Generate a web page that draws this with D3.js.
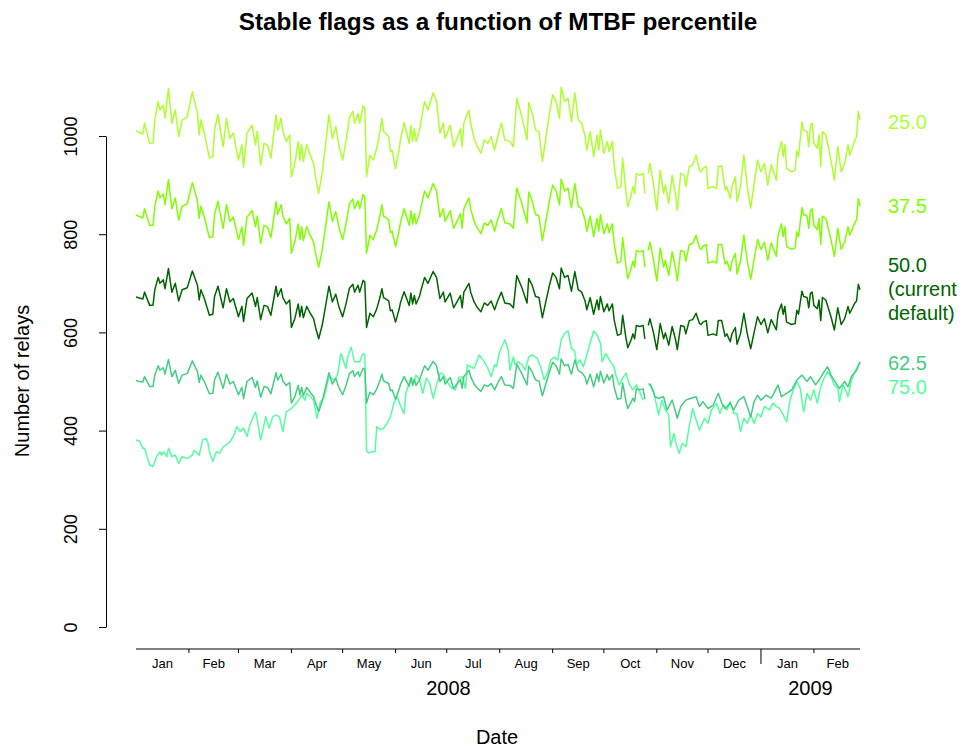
<!DOCTYPE html>
<html lang="en">
<head>
  <meta charset="UTF-8">
  <title>Stable flags as a function of MTBF percentile</title>
  <script src="https://d3js.org/d3.v7.min.js"></script>
  <style>
    body { margin: 0; background: #fff; }
    svg { font-family: "Liberation Sans", Arial, Helvetica, sans-serif; }
    .series { fill: none; stroke-width: 1.5px; stroke-linejoin: round; }
    .axis path, .axis line { stroke: #000; }
  </style>
</head>
<body>
  <div id="chart"></div>
  <script>
    const days = [
      0, 2, 4, 5, 8, 10, 11, 13, 14, 16,
      17, 19, 21, 23, 25, 27, 30, 33, 36, 37,
      38, 40, 43, 45, 46, 48, 51, 53, 55, 57,
      60, 62, 63, 65, 68, 70, 71, 73, 75, 77,
      79, 82, 83, 85, 86, 88, 90, 91, 93, 95,
      96, 97, 98, 100, 102, 104, 105, 107, 109, 111,
      113, 115, 117, 119, 121, 123, 125, 127, 128, 130,
      131, 133, 134, 135, 137, 139, 141, 143, 144, 145,
      148, 149, 150, 152, 154, 155, 157, 160, 161, 162,
      163, 164, 166, 167, 169, 171, 174, 176, 178, 180,
      181, 184, 186, 188, 190, 191, 192, 195, 196, 198,
      200, 202, 204, 206, 208, 210, 212, 214, 216, 219,
      221, 223, 226, 229, 230, 232, 234, 236, 238, 240,
      242, 244, 246, 248, 249, 251, 253, 255, 257, 259,
      261, 263, 264, 266, 268, 270, 271, 272, 274, 276,
      277, 279, 280, 282, 284, 285, 287, 288, 290, 291,
      292, 293, 295, 297, 298, 299, 300, 301, 303, 305,
      307, 309, 310, 312, 314, 316, 317, 319, 321, 322,
      324, 326, 328, 330, 331, 332, 334, 335, 338, 340,
      341, 343, 345, 346, 348, 349, 351, 352, 354, 356,
      358, 360, 362, 364, 366, 368, 370, 372, 375, 376,
      378, 379, 380, 381, 384, 386, 387, 388, 390, 391,
      393, 394, 395, 396, 397, 399, 400, 401, 402, 404,
      407, 409, 411, 413, 415, 417, 418, 421, 422, 423,
      424
    ];

    // 25.0 percentile
    const v250 = [
      1011, 1007, 1004, 1026, 985, 986, 1033, 1070, 1053, 1063,
      1036, 1097, 1026, 1053, 999, 1033, 1039, 1090, 1046, 1002,
      1033, 1006, 955, 958, 1012, 1044, 978, 1036, 995, 1006,
      951, 982, 936, 1006, 1022, 982, 1009, 941, 985, 982,
      955, 1043, 1012, 1036, 1009, 989, 1002, 917, 944, 989,
      951, 982, 948, 982, 961, 944, 920, 883, 924, 982,
      1043, 995, 1019, 978, 951, 989, 1038, 1050, 1026, 1046,
      1026, 1061, 1056, 917, 961, 951, 975, 1012, 1036, 1009,
      999, 968, 971, 934, 971, 995, 1027, 985, 1022, 989,
      1015, 989, 1012, 1033, 1070, 1053, 1088, 1070, 1006, 1026,
      995, 1022, 978, 995, 1015, 978, 1026, 1053, 1026, 995,
      978, 965, 992, 985, 999, 971, 1002, 1026, 992, 989,
      978, 1077, 1039, 992, 1068, 1046, 1012, 1009, 948, 995,
      1043, 1084, 1070, 1036, 1099, 1070, 1077, 1029, 1088, 1033,
      1026, 999, 971, 1009, 958, 1002, 971, 1012, 965, 989,
      968, 989, 941, 893, 897, 955, 883, 856, 880, 897,
      883, 924, 920, 924, 883, null, 924, 944, 903, 849,
      930, 883, 900, 863, 920, 880, 849, 924, 920, 897,
      938, 941, 961, 930, 927, 934, 938, 893, 897, 893,
      938, 939, 890, 897, 873, 897, 917, 866, 897, 961,
      897, 853, 903, 951, 927, 944, 900, 942, 910, 961,
      989, 958, 982, 934, 927, 930, 970, 958, 1029, 1012,
      1009, 978, 1022, 1026, 985, 975, 1002, 938, 1009, 1002,
      951, 910, 978, 927, 944, 982, 961, 992, 999, 1050,
      1033
    ];

    // 37.5 percentile
    const v375 = [
      839, 836, 833, 852, 818, 818, 857, 888, 874, 882,
      860, 911, 852, 874, 829, 857, 862, 905, 868, 832,
      857, 835, 793, 795, 840, 867, 812, 860, 826, 835,
      789, 815, 777, 835, 848, 815, 837, 781, 818, 815,
      793, 866, 840, 860, 837, 821, 832, 761, 784, 821,
      789, 815, 787, 815, 798, 784, 764, 733, 767, 815,
      866, 826, 846, 812, 789, 821, 862, 872, 852, 868,
      852, 881, 876, 761, 798, 789, 809, 840, 860, 837,
      829, 803, 806, 775, 806, 826, 852, 818, 848, 821,
      842, 821, 840, 857, 888, 874, 903, 888, 835, 852,
      826, 848, 812, 826, 842, 812, 852, 874, 852, 826,
      812, 801, 823, 818, 829, 806, 832, 852, 823, 821,
      812, 894, 862, 823, 886, 868, 840, 837, 787, 826,
      866, 900, 888, 860, 912, 888, 894, 854, 903, 857,
      852, 829, 806, 837, 795, 832, 806, 840, 801, 821,
      803, 821, 781, 741, 745, 793, 733, 710, 730, 745,
      733, 767, 764, 767, 733, null, 767, 784, 749, 705,
      772, 733, 747, 716, 764, 730, 705, 767, 764, 745,
      779, 781, 798, 772, 769, 775, 779, 741, 745, 741,
      779, 779, 739, 745, 725, 745, 761, 719, 745, 798,
      745, 708, 749, 789, 769, 784, 747, 782, 755, 798,
      821, 795, 815, 775, 769, 772, 805, 795, 854, 840,
      837, 812, 848, 852, 818, 809, 832, 779, 837, 832,
      789, 755, 812, 769, 784, 815, 798, 823, 829, 872,
      857
    ];

    // 50.0 percentile (current default)
    const v500 = [
      672, 670, 668, 682, 655, 656, 687, 712, 700, 707,
      689, 730, 682, 700, 664, 687, 691, 725, 696, 666,
      687, 669, 635, 637, 673, 694, 650, 689, 662, 669,
      632, 653, 622, 669, 680, 653, 671, 626, 655, 653,
      635, 694, 673, 689, 671, 658, 666, 610, 628, 658,
      632, 653, 630, 653, 639, 628, 612, 587, 614, 653,
      694, 662, 678, 650, 632, 658, 690, 698, 682, 696,
      682, 706, 702, 610, 639, 632, 648, 673, 689, 671,
      664, 644, 646, 621, 646, 662, 683, 655, 680, 658,
      675, 658, 673, 687, 712, 700, 724, 712, 669, 682,
      662, 680, 650, 662, 675, 650, 682, 700, 682, 662,
      650, 642, 660, 655, 664, 646, 666, 682, 660, 658,
      650, 716, 691, 660, 710, 696, 673, 671, 630, 662,
      694, 721, 712, 689, 731, 712, 716, 684, 724, 687,
      682, 664, 646, 671, 637, 666, 646, 673, 642, 658,
      644, 658, 626, 594, 597, 635, 587, 569, 585, 597,
      587, 614, 612, 614, 587, null, 614, 628, 600, 565,
      618, 587, 599, 574, 612, 585, 565, 614, 612, 597,
      624, 626, 639, 618, 616, 621, 624, 594, 597, 594,
      624, 624, 592, 597, 581, 597, 610, 576, 597, 639,
      597, 567, 600, 632, 616, 628, 599, 626, 605, 639,
      658, 637, 653, 621, 616, 618, 645, 637, 684, 673,
      671, 650, 680, 682, 655, 648, 666, 624, 671, 666,
      632, 605, 650, 616, 628, 653, 639, 660, 664, 698,
      687
    ];

    // 62.5 percentile: Jan-Oct on the same days as above, then its own readings
    const days625 = days.slice(0, 166).concat([
      301, 304, 306, 309, 311, 314, 317, 319, 322, 325,
      328, 330, 332, 335, 338, 341, 343, 345, 348, 350,
      353, 356, 358, 360, 362, 364, 366, 369, 372, 374,
      376, 378, 381, 384, 387, 390, 393, 395, 398, 400,
      403, 405, 407, 410, 412, 415, 417, 419, 422, 424
    ]);
    const v625 = [
      502, 500, 499, 510, 490, 490, 513, 532, 523, 528,
      515, 545, 510, 523, 496, 513, 516, 542, 520, 498,
      513, 500, 475, 476, 503, 519, 486, 515, 495, 500,
      473, 488, 465, 500, 508, 488, 501, 468, 490, 488,
      475, 518, 503, 515, 501, 492, 498, 456, 469, 492,
      473, 488, 471, 488, 478, 469, 457, 439, 459, 488,
      518, 495, 506, 486, 473, 492, 516, 522, 510, 520,
      510, 527, 525, 456, 478, 473, 485, 503, 515, 501,
      496, 481, 483, 464, 483, 495, 510, 490, 508, 492,
      504, 492, 503, 513, 532, 523, 541, 532, 500, 510,
      495, 508, 486, 495, 504, 486, 510, 523, 510, 495,
      486, 480, 493, 490, 496, 483, 498, 510, 493, 492,
      486, 535, 516, 493, 531, 520, 503, 501, 471, 495,
      518, 539, 532, 515, 546, 532, 535, 515, 544, 522,
      518, 509, 495, 515, 489, 516, 500, 521, 497, 514,
      503, 514, 489, 464, 466, 497, 459, 445, 458, 466,
      459, 485, 483, 485, 464, null,
      496, 469, 466, 469, 442, 462, 425, 449, 462, 466,
      469, 449, 459, 445, 452, 476, 456, 445, 456, 442,
      462, 469, 449, 428, 459, 472, 462, 472, 466, 479,
      493, 469, 476, 483, 503, 513, 500, 510, 493, 503,
      520, 530, 513, 496, 486, 500, 489, 510, 523, 540
    ];

    // 75.0 percentile
    const days750 = [
      0, 2, 4, 5, 8, 10, 12, 14, 15, 16,
      18, 19, 21, 23, 25, 27, 30, 33, 34, 37,
      39, 41, 42, 43, 45, 47, 49, 51, 53, 55,
      57, 59, 61, 63, 65, 67, 70, 71, 73, 76,
      78, 80, 82, 84, 86, 88, 91, 92, 94, 96,
      97, 99, 100, 102, 104, 106, 108, 110, 113, 116,
      118, 120, 122, 123, 124, 126, 128, 131, 133, 134,
      135, 136, 138, 140, 141, 143, 145, 147, 149, 151,
      153, 155, 157, 158, 161, 163, 164, 166, 168, 170,
      172, 174, 176, 178, 180, 182, 185, 187, 189, 191,
      193, 194, 196, 198, 201, 204, 206, 208, 210, 211,
      213, 216, 218, 219, 221, 222, 224, 226, 228, 230,
      232, 235, 237, 239, 241, 243, 245, 247, 249, 251,
      253, 255, 257, 258, 260, 262, 264, 266, 268, 270,
      272, 273, 275, 278, 280, 281, 283, 285, 287, 289,
      291, 293, 295, 296, 297, 299, 300, 303, 306, 308,
      310, 312, 313, 315, 316, 318, 320, 322, 324, 326,
      328, 330, 332, 333, 335, 337, 340, 342, 344, 346,
      348, 350, 352, 354, 356, 358, 360, 362, 364, 366,
      368, 371, 373, 375, 377, 379, 381, 383, 385, 387,
      389, 391, 393, 395, 397, 399, 401, 403, 405, 407,
      409, 411, 412, 414, 416, 417, 419, 421, 424
    ];
    const v750 = [
      381, 379, 364, 364, 330, 327, 347, 357, 350, 357,
      347, 364, 347, 350, 333, 347, 343, 350, 360, 350,
      381, 384, 377, 357, 337, 357, 354, 367, 371, 377,
      388, 408, 398, 405, 388, 415, 438, 422, 381, 428,
      405, 428, 432, 428, 398, 438, 445, 449, 456, 466,
      472, 462, 476, 469, 462, 425, 459, 466, 510, 503,
      513, 557, 537, 527, 550, 570, 540, 540, 557, 554,
      360, 354, 357, 357, 408, 402, 405, 415, 428, 456,
      469, 449, 435, 476, 507, 500, 513, 503, 476, 507,
      496, 466, 493, 517, 515, 500, 486, 483, 507, 510,
      486, 534, 530, 527, 554, 540, 527, 510, 534, 530,
      561, 585, 564, 523, 550, 534, 540, 534, 523, 550,
      554, 547, 530, 504, 517, 544, 550, 544, 585, 598,
      603, 568, 561, 534, 544, 530, 554, 578, 603, 595,
      578, 540, 557, 540, 530, 513, 493, 507, 517, 493,
      483, 493, 479, 469, 462, null, 496, 483, 432, 462,
      442, 432, 367, 394, 377, 354, 374, 367, 408, 445,
      422, 401, 418, 425, 415, 442, 456, 435, 452, 442,
      459, 435, 435, 398, 425, 415, 432, 415, 435, 428,
      449, 442, 456, 449, 445, 432, 418, 462, 483, 500,
      486, 438, 476, 462, 483, 456, 489, 507, 520, 510,
      493, 486, 459, 493, 479, 469, 503, 520, 540
    ];

    const seriesNames = ["25.0", "37.5", "50.0", "62.5", "75.0"];
    const seriesColors = ["#adff2f", "#7fff00", "#006400", "#43cd80", "#54ff9f"];
    // Where each label sits on the value axis, beside the line ends
    const labelValues = [1028, 857, 688, 538, 489];
    const labelLines = [["25.0"], ["37.5"], ["50.0", "(current", "default)"], ["62.5"], ["75.0"]];
    const yTicks = [0, 200, 400, 600, 800, 1000];
    const monthNames = ["Jan", "Feb", "Mar", "Apr", "May", "Jun", "Jul", "Aug", "Sep", "Oct", "Nov", "Dec"];

    const width = 963, height = 749;
    const start = new Date(Date.UTC(2008, 0, 1));
    const toDate = d => new Date(start.getTime() + d * 864e5);

    const svg = d3.select("#chart").append("svg")
      .attr("width", width)
      .attr("height", height);

    // Scales
    const x = d3.scaleUtc().domain([start, toDate(424)]).range([136, 860]);
    const y = d3.scaleLinear().domain([0, 1000]).range([627, 136]);

    // Build the series as {date, value} arrays
    const series = [
      { days: days, values: v250 },
      { days: days, values: v375 },
      { days: days, values: v500 },
      { days: days625, values: v625 },
      { days: days750, values: v750 }
    ].map((s, i) => ({
      name: seriesNames[i],
      color: seriesColors[i],
      points: s.days.map((d, j) => ({ date: toDate(d), value: s.values[j] }))
    }));

    const line = d3.line()
      .defined(d => d.value != null)
      .x(d => x(d.date))
      .y(d => y(d.value));

    svg.append("g").selectAll("path")
      .data(series.slice().reverse())
      .join("path")
      .attr("class", "series")
      .attr("stroke", d => d.color)
      .attr("d", d => line(d.points));

    // Y axis with labels parallel to the axis
    const yAxis = svg.append("g")
      .attr("class", "axis")
      .attr("transform", "translate(106,0)")
      .call(d3.axisLeft(y).tickValues(yTicks).tickFormat(d3.format("d")).tickSize(7).tickSizeOuter(0));
    yAxis.selectAll("text")
      .attr("x", null).attr("dy", null)
      .attr("transform", "translate(-29,0) rotate(-90)")
      .attr("text-anchor", "middle")
      .attr("font-size", 18)
      .attr("fill", "#000");

    // X axis: month ticks (none at the very start) and labels
    const months = d3.utcMonth.range(start, new Date(Date.UTC(2009, 2, 1)));
    const xAxis = svg.append("g").attr("class", "axis");
    xAxis.append("line")
      .attr("x1", x.range()[0]).attr("x2", x.range()[1])
      .attr("y1", 649).attr("y2", 649);
    xAxis.selectAll(".mtick")
      .data(months.slice(1))
      .join("line")
      .attr("x1", d => x(d)).attr("x2", d => x(d))
      .attr("y1", 649)
      .attr("y2", d => d.getUTCMonth() === 0 ? 664 : 653);
    xAxis.selectAll(".mlabel")
      .data(months)
      .join("text")
      .attr("x", d => (x(d) + x(d3.utcMonth.offset(d, 1))) / 2)
      .attr("y", 668)
      .attr("text-anchor", "middle")
      .attr("font-size", 13)
      .text(d => monthNames[d.getUTCMonth()]);

    // Year labels
    const years = [
      { label: "2008", from: start, to: new Date(Date.UTC(2009, 0, 1)) },
      { label: "2009", from: new Date(Date.UTC(2009, 0, 1)), to: toDate(424) }
    ];
    svg.selectAll(".year")
      .data(years)
      .join("text")
      .attr("x", d => (x(d.from) + x(d.to)) / 2)
      .attr("y", 695)
      .attr("text-anchor", "middle")
      .attr("font-size", 20)
      .text(d => d.label);

    // Series labels on the right
    const labels = svg.append("g").attr("font-size", 20);
    labelLines.forEach((lines, i) => {
      const cy = y(labelValues[i]);
      const t = labels.append("text")
        .attr("x", 888)
        .attr("y", cy - (lines.length - 1) * 12 + 7)
        .attr("fill", seriesColors[i]);
      lines.forEach((s, k) => {
        t.append("tspan").attr("x", 888).attr("dy", k === 0 ? 0 : 24).text(s);
      });
    });

    // Titles
    svg.append("text")
      .attr("x", 498).attr("y", 30)
      .attr("text-anchor", "middle")
      .attr("font-size", 24.3)
      .attr("font-weight", "bold")
      .text("Stable flags as a function of MTBF percentile");

    svg.append("text")
      .attr("x", 497).attr("y", 744)
      .attr("text-anchor", "middle")
      .attr("font-size", 20)
      .text("Date");

    svg.append("text")
      .attr("transform", "translate(29,381) rotate(-90)")
      .attr("text-anchor", "middle")
      .attr("font-size", 20)
      .text("Number of relays");
  </script>
</body>
</html>
